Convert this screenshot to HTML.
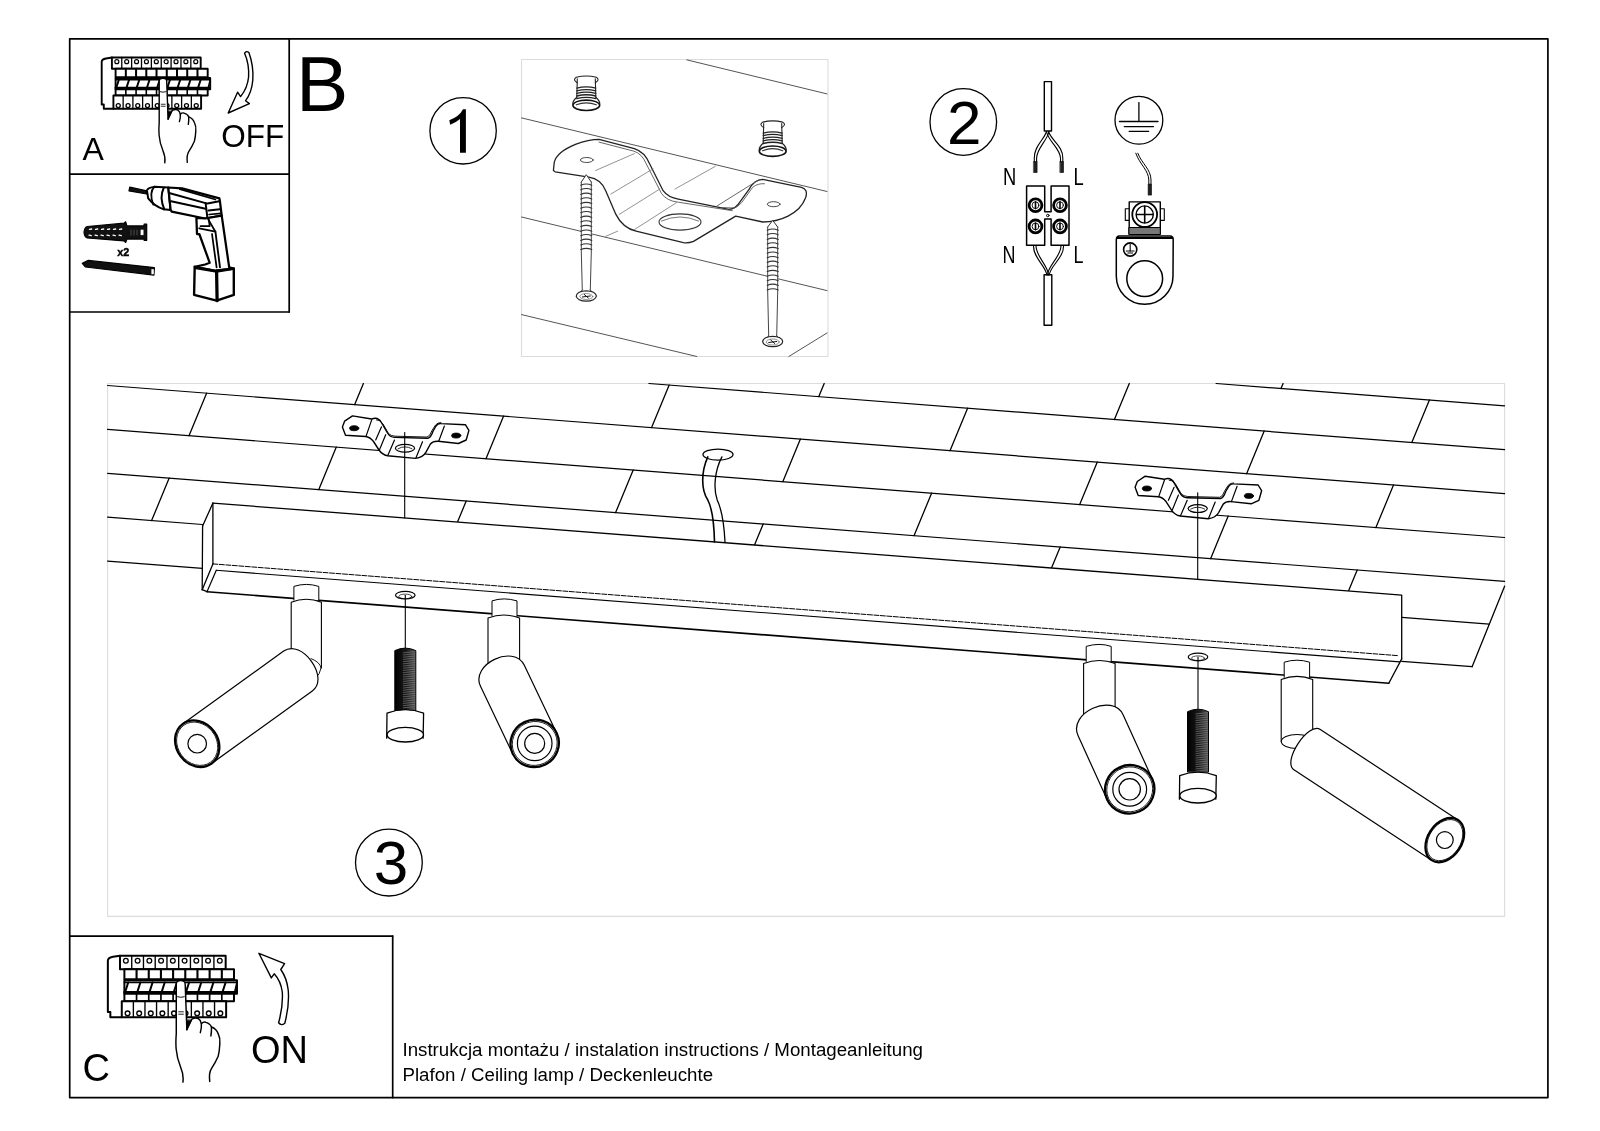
<!DOCTYPE html>
<html><head><meta charset="utf-8"><style>
html,body{margin:0;padding:0;background:#fff;width:1600px;height:1131px;overflow:hidden}
svg{display:block;will-change:transform}
text{font-family:"Liberation Sans",sans-serif;fill:#000}
</style></head><body>
<svg width="1600" height="1131" viewBox="0 0 1600 1131" stroke-linecap="round" stroke-linejoin="round">
<defs><linearGradient id="thr" x1="0" x2="1" y1="0" y2="0"><stop offset="0" stop-color="#000"/><stop offset="0.55" stop-color="#1a1a1a"/><stop offset="1" stop-color="#555"/></linearGradient></defs>
<rect x="0" y="0" width="1600" height="1131" fill="#fff"/>
<rect x="69.7" y="38.8" width="1478.2" height="1058.8" stroke="#000" stroke-width="1.7" fill="none" />
<line x1="289.2" y1="38.8" x2="289.2" y2="312.0" stroke="#000" stroke-width="1.7" />
<line x1="69.7" y1="174.1" x2="289.2" y2="174.1" stroke="#000" stroke-width="1.7" />
<line x1="69.7" y1="312.0" x2="289.2" y2="312.0" stroke="#000" stroke-width="1.7" />
<line x1="69.7" y1="936.1" x2="392.7" y2="936.1" stroke="#000" stroke-width="1.7" />
<line x1="392.7" y1="936.1" x2="392.7" y2="1097.6" stroke="#000" stroke-width="1.7" />
<rect x="521.5" y="59.5" width="306.5" height="297.0" stroke="#dcdcdc" stroke-width="1.1" fill="none" />
<rect x="107.6" y="383.5" width="1397.0" height="532.9" stroke="#dcdcdc" stroke-width="1.1" fill="none" />
<text x="295.9" y="110.6" font-size="78.5" text-anchor="start" >B</text>
<text x="82.4" y="159.6" font-size="32" text-anchor="start" >A</text>
<text x="221.2" y="146.6" font-size="31.5" text-anchor="start" >OFF</text>
<text x="82.4" y="1080.6" font-size="38" text-anchor="start" >C</text>
<text x="250.9" y="1063.0" font-size="38" text-anchor="start" >ON</text>
<text x="402.5" y="1055.8" font-size="18.7" text-anchor="start" >Instrukcja montażu / instalation instructions / Montageanleitung</text>
<text x="402.5" y="1081.3" font-size="18.7" text-anchor="start" >Plafon / Ceiling lamp / Deckenleuchte</text>
<circle cx="463.1" cy="130.8" r="33.2" stroke="#000" stroke-width="1.3" fill="none" />
<path d="M465.9,109.2 L465.9,152.7 L460,152.7 L460,118.9 Q456,122.4 450.2,124.7 L449.3,120.2 Q459.5,116.3 463,109.2 Z" stroke="#000" stroke-width="0" fill="#000" />
<circle cx="963.3" cy="122.0" r="33.3" stroke="#000" stroke-width="1.3" fill="none" />
<text x="946.9" y="143.8" font-size="62" text-anchor="start" >2</text>
<circle cx="388.9" cy="862.6" r="33.4" stroke="#000" stroke-width="1.3" fill="none" />
<text x="373.7" y="883.8" font-size="62" text-anchor="start" >3</text>
<line x1="1216.1" y1="383.5" x2="1504.6" y2="405.8" stroke="#000" stroke-width="1.2" />
<line x1="648.9" y1="383.5" x2="1504.6" y2="449.7" stroke="#000" stroke-width="1.2" />
<line x1="107.6" y1="385.5" x2="1504.6" y2="493.6" stroke="#000" stroke-width="1.2" />
<line x1="107.6" y1="429.4" x2="1504.6" y2="537.5" stroke="#000" stroke-width="1.2" />
<line x1="107.6" y1="473.3" x2="1504.6" y2="581.4" stroke="#000" stroke-width="1.2" />
<line x1="107.6" y1="517.2" x2="202.4" y2="524.5" stroke="#000" stroke-width="1.2" />
<line x1="1401.7" y1="617.4" x2="1489.3" y2="624.1" stroke="#000" stroke-width="1.2" />
<line x1="107.6" y1="561.1" x2="202.4" y2="568.4" stroke="#000" stroke-width="1.3" />
<line x1="1401.7" y1="661.3" x2="1472.1" y2="666.7" stroke="#000" stroke-width="1.3" />
<line x1="1504.6" y1="586.2" x2="1472.1" y2="666.7" stroke="#000" stroke-width="1.3" />
<line x1="1281.0" y1="388.5" x2="1283.1" y2="383.5" stroke="#000" stroke-width="1.3" />
<line x1="818.8" y1="396.6" x2="824.2" y2="383.5" stroke="#000" stroke-width="1.3" />
<line x1="1114.4" y1="419.5" x2="1129.3" y2="383.5" stroke="#000" stroke-width="1.3" />
<line x1="1411.8" y1="442.5" x2="1429.4" y2="400.0" stroke="#000" stroke-width="1.3" />
<line x1="354.7" y1="404.6" x2="363.4" y2="383.5" stroke="#000" stroke-width="1.3" />
<line x1="651.6" y1="427.6" x2="669.2" y2="385.1" stroke="#000" stroke-width="1.3" />
<line x1="950.0" y1="450.7" x2="967.6" y2="408.2" stroke="#000" stroke-width="1.3" />
<line x1="1246.6" y1="473.7" x2="1264.2" y2="431.1" stroke="#000" stroke-width="1.3" />
<line x1="189.0" y1="435.7" x2="206.6" y2="393.2" stroke="#000" stroke-width="1.3" />
<line x1="486.0" y1="458.7" x2="503.6" y2="416.1" stroke="#000" stroke-width="1.3" />
<line x1="782.8" y1="481.7" x2="800.4" y2="439.1" stroke="#000" stroke-width="1.3" />
<line x1="1079.7" y1="504.6" x2="1097.3" y2="462.1" stroke="#000" stroke-width="1.3" />
<line x1="1375.9" y1="527.6" x2="1393.5" y2="485.0" stroke="#000" stroke-width="1.3" />
<line x1="318.8" y1="489.6" x2="336.3" y2="447.1" stroke="#000" stroke-width="1.3" />
<line x1="615.6" y1="512.6" x2="633.2" y2="470.1" stroke="#000" stroke-width="1.3" />
<line x1="914.0" y1="535.7" x2="931.6" y2="493.2" stroke="#000" stroke-width="1.3" />
<line x1="1210.6" y1="558.7" x2="1228.2" y2="516.1" stroke="#000" stroke-width="1.3" />
<line x1="151.6" y1="520.6" x2="169.2" y2="478.1" stroke="#000" stroke-width="1.3" />
<line x1="457.5" y1="522.0" x2="466.2" y2="501.1" stroke="#000" stroke-width="1.3" />
<line x1="754.5" y1="545.0" x2="763.2" y2="524.0" stroke="#000" stroke-width="1.3" />
<line x1="1051.5" y1="568.0" x2="1060.2" y2="547.0" stroke="#000" stroke-width="1.3" />
<line x1="1348.5" y1="591.0" x2="1357.2" y2="570.0" stroke="#000" stroke-width="1.3" />
<path d="M212.9,503.1 L1401.7,595.1 L1401.7,658.9" stroke="#000" stroke-width="1.3" fill="#fff" />
<line x1="212.9" y1="503.1" x2="212.9" y2="563.9" stroke="#000" stroke-width="1.3" />
<line x1="212.9" y1="503.1" x2="202.6" y2="526.0" stroke="#000" stroke-width="1.3" />
<line x1="202.6" y1="526.0" x2="202.2" y2="589.7" stroke="#000" stroke-width="1.3" />
<line x1="212.9" y1="563.9" x2="202.2" y2="589.7" stroke="#000" stroke-width="1.3" />
<line x1="216.3" y1="570.3" x2="207.0" y2="591.7" stroke="#000" stroke-width="1.2" />
<line x1="212.9" y1="563.9" x2="1398.7" y2="655.7" stroke="#000" stroke-width="1.0" stroke-dasharray="5 1.5"/>
<line x1="216.3" y1="570.3" x2="1399.7" y2="661.9" stroke="#000" stroke-width="1.1" />
<line x1="202.2" y1="589.7" x2="207.0" y2="591.7" stroke="#000" stroke-width="1.3" />
<line x1="207.0" y1="591.7" x2="1388.8" y2="683.2" stroke="#000" stroke-width="1.6" />
<line x1="1401.7" y1="658.9" x2="1388.8" y2="683.2" stroke="#000" stroke-width="1.3" />
<path d="M342.4,426.9 L344.6,421.2 L352.5,415.9 L371.7,419.0 Q378.0,416.5 381.4,422.5 L387.5,433.0 Q390.0,437.2 394.5,437.4 L427.7,438.2 Q431.0,437.5 433.0,431.2 L436.0,426.0 Q438.0,423.2 441.0,423.6 L465.4,424.7 L468.9,430.4 L466.2,440.0 L458.4,443.5 L438.2,441.3 Q433.0,441.0 430.4,444.0 L426.0,452.2 Q423.0,457.5 415.5,458.4 L387.5,455.7 Q382.0,454.5 379.0,450.0 L373.5,441.5 Q370.0,437.0 365.6,436.5 L345.5,435.2 Z" stroke="#000" stroke-width="1.4" fill="#fff" />
<path d="M376.5,419.8 Q380.0,419.5 383.0,424.0 L388.5,433.5 Q391.0,436.0 395.0,436.2 L427.0,437.0 Q430.0,436.5 432.0,430.5 L435.5,425.0 Q437.5,422.5 441.0,422.6" stroke="#000" stroke-width="0.9" fill="none" />
<path d="M371.7,419.9 L366.1,436.1" stroke="#000" stroke-width="1.2" fill="none" />
<path d="M381.4,426.9 L375.7,440.0" stroke="#000" stroke-width="1.2" fill="none" />
<path d="M385.7,434.7 L379.6,449.6" stroke="#000" stroke-width="1.2" fill="none" />
<path d="M394.5,440.0 L387.9,455.3" stroke="#000" stroke-width="1.2" fill="none" />
<path d="M422.5,441.7 L415.9,457.9" stroke="#000" stroke-width="1.2" fill="none" />
<path d="M444.4,426.0 L438.7,441.3" stroke="#000" stroke-width="1.2" fill="none" />
<ellipse cx="354.2" cy="428.2" rx="4.6" ry="2.5" stroke="#000" stroke-width="0.8" fill="#000" transform="rotate(0 354.2 428.2)" />
<ellipse cx="456.2" cy="435.6" rx="4.6" ry="2.5" stroke="#000" stroke-width="0.8" fill="#000" transform="rotate(0 456.2 435.6)" />
<ellipse cx="405.0" cy="448.3" rx="9.6" ry="3.9" stroke="#000" stroke-width="1.2" fill="none" transform="rotate(0 405.0 448.3)" />
<path d="M398.0,448.8 Q405.0,444.8 412.0,448.8" stroke="#000" stroke-width="0.8" fill="none" />
<line x1="404.7" y1="432.5" x2="404.7" y2="517.9" stroke="#000" stroke-width="1.1" />
<path d="M1135.1,487.2 L1137.3,481.5 L1145.2,476.2 L1164.4,479.3 Q1170.7,476.8 1174.1,482.8 L1180.2,493.3 Q1182.7,497.5 1187.2,497.7 L1220.4,498.5 Q1223.7,497.8 1225.7,491.5 L1228.7,486.3 Q1230.7,483.5 1233.7,483.9 L1258.1,485.0 L1261.6,490.7 L1258.9,500.3 L1251.1,503.8 L1230.9,501.6 Q1225.7,501.3 1223.1,504.3 L1218.7,512.5 Q1215.7,517.8 1208.2,518.7 L1180.2,516.0 Q1174.7,514.8 1171.7,510.3 L1166.2,501.8 Q1162.7,497.3 1158.3,496.8 L1138.2,495.5 Z" stroke="#000" stroke-width="1.4" fill="#fff" />
<path d="M1169.2,480.1 Q1172.7,479.8 1175.7,484.3 L1181.2,493.8 Q1183.7,496.3 1187.7,496.5 L1219.7,497.3 Q1222.7,496.8 1224.7,490.8 L1228.2,485.3 Q1230.2,482.8 1233.7,482.9" stroke="#000" stroke-width="0.9" fill="none" />
<path d="M1164.4,480.2 L1158.8,496.4" stroke="#000" stroke-width="1.2" fill="none" />
<path d="M1174.1,487.2 L1168.4,500.3" stroke="#000" stroke-width="1.2" fill="none" />
<path d="M1178.4,495.0 L1172.3,509.9" stroke="#000" stroke-width="1.2" fill="none" />
<path d="M1187.2,500.3 L1180.6,515.6" stroke="#000" stroke-width="1.2" fill="none" />
<path d="M1215.2,502.0 L1208.6,518.2" stroke="#000" stroke-width="1.2" fill="none" />
<path d="M1237.1,486.3 L1231.4,501.6" stroke="#000" stroke-width="1.2" fill="none" />
<ellipse cx="1146.9" cy="488.5" rx="4.6" ry="2.5" stroke="#000" stroke-width="0.8" fill="#000" transform="rotate(0 1146.9 488.5)" />
<ellipse cx="1248.9" cy="495.9" rx="4.6" ry="2.5" stroke="#000" stroke-width="0.8" fill="#000" transform="rotate(0 1248.9 495.9)" />
<ellipse cx="1197.7" cy="508.6" rx="9.6" ry="3.9" stroke="#000" stroke-width="1.2" fill="none" transform="rotate(0 1197.7 508.6)" />
<path d="M1190.7,509.1 Q1197.7,505.1 1204.7,509.1" stroke="#000" stroke-width="0.8" fill="none" />
<line x1="1197.7" y1="492.8" x2="1197.7" y2="579.3" stroke="#000" stroke-width="1.1" />
<ellipse cx="718.0" cy="454.6" rx="15.0" ry="5.5" stroke="#000" stroke-width="1.3" fill="#fff" transform="rotate(0 718.0 454.6)" />
<path d="M707.8,456.9 C701,472 701,490 707.8,500 C712,508 714,520 714.5,542" stroke="#000" stroke-width="1.6" fill="none" />
<path d="M721.9,456.9 C715,470 713,488 717.2,500 C721,508 724,522 725,542" stroke="#000" stroke-width="1.3" fill="none" />
<path d="M293.9,600.2 L293.9,586.4 Q306.3,582.4 318.8,586.4 L318.8,600.2" stroke="#000" stroke-width="1.0" fill="#fff" />
<path d="M291.2,668.0 L291.2,602.2 Q306.3,596.2 321.4,602.2 L321.4,668.0" stroke="#000" stroke-width="1.1" fill="#fff" />
<path d="M311,658.6 Q320,662 321,668 Q320,674 316,678" stroke="#000" stroke-width="0.9" fill="none" />
<path d="M211.5,763.6 L312.3,690.9 C330.2,678.0 301.6,638.2 283.7,651.1 L182.9,723.8 Z" stroke="#000" stroke-width="1.2" fill="#fff" />
<ellipse cx="197.2" cy="743.7" rx="20.8" ry="24.5" stroke="#000" stroke-width="2.3" fill="#fff" transform="rotate(-35.80027937627632 197.2 743.7)" />
<ellipse cx="197.2" cy="743.7" rx="19.4" ry="22.8" stroke="#000" stroke-width="0.8" fill="none" transform="rotate(-35.80027937627632 197.2 743.7)" />
<circle cx="197.2" cy="743.7" r="9.3" stroke="#000" stroke-width="1.2" fill="none" />
<path d="M492.0,616.0 L492.0,600.9 Q503.8,596.9 517.0,600.9 L517.0,616.0" stroke="#000" stroke-width="1.0" fill="#fff" />
<path d="M488.0,675.0 L488.0,618.0 Q503.8,612.0 519.6,618.0 L519.6,675.0" stroke="#000" stroke-width="1.1" fill="#fff" />
<path d="M556.6,732.9 L524.3,665.3 C513.8,643.4 470.0,664.4 480.5,686.3 L512.8,753.9 Z" stroke="#000" stroke-width="1.2" fill="#fff" />
<ellipse cx="534.7" cy="743.4" rx="23.6" ry="24.3" stroke="#000" stroke-width="2.3" fill="#fff" transform="rotate(-115.53896781887705 534.7 743.4)" />
<ellipse cx="534.7" cy="743.4" rx="21.9" ry="22.6" stroke="#000" stroke-width="0.8" fill="none" transform="rotate(-115.53896781887705 534.7 743.4)" />
<circle cx="534.7" cy="743.4" r="10.0" stroke="#000" stroke-width="1.2" fill="none" />
<circle cx="534.7" cy="743.4" r="17.3" stroke="#000" stroke-width="1.2" fill="none" />
<path d="M1086.2,661.5 L1086.2,646.4 Q1099.3,642.4 1111.2,646.4 L1111.2,661.5" stroke="#000" stroke-width="1.0" fill="#fff" />
<path d="M1083.6,714.0 L1083.6,663.5 Q1099.3,657.5 1115.1,663.5 L1115.1,714.0" stroke="#000" stroke-width="1.1" fill="#fff" />
<path d="M1152.3,779.0 L1123.2,714.9 C1112.9,692.4 1067.8,712.9 1078.0,735.5 L1107.1,799.6 Z" stroke="#000" stroke-width="1.2" fill="#fff" />
<ellipse cx="1129.7" cy="789.3" rx="24.1" ry="24.8" stroke="#000" stroke-width="2.3" fill="#fff" transform="rotate(-114.41701108171476 1129.7 789.3)" />
<ellipse cx="1129.7" cy="789.3" rx="22.4" ry="23.1" stroke="#000" stroke-width="0.8" fill="none" transform="rotate(-114.41701108171476 1129.7 789.3)" />
<circle cx="1129.7" cy="789.3" r="10.7" stroke="#000" stroke-width="1.2" fill="none" />
<circle cx="1129.7" cy="789.3" r="16.9" stroke="#000" stroke-width="1.2" fill="none" />
<path d="M1284.2,677.4 L1284.2,662.2 Q1297.0,658.2 1309.6,662.2 L1309.6,677.4" stroke="#000" stroke-width="1.0" fill="#fff" />
<path d="M1281.2,741.5 L1281.2,679.4 Q1297.0,673.4 1312.7,679.4 L1312.7,741.5" stroke="#000" stroke-width="1.1" fill="#fff" />
<ellipse cx="1297.0" cy="741.5" rx="15.7" ry="7.0" stroke="#000" stroke-width="1.1" fill="#fff" transform="rotate(0 1297.0 741.5)" />
<path d="M1458.0,820.0 L1320.3,729.5 C1308.2,721.6 1281.9,761.7 1293.9,769.7 L1431.6,860.2 Z" stroke="#000" stroke-width="1.2" fill="#fff" />
<ellipse cx="1444.8" cy="840.1" rx="17.0" ry="24.0" stroke="#000" stroke-width="2.3" fill="#fff" transform="rotate(-146.68604816228466 1444.8 840.1)" />
<ellipse cx="1444.8" cy="840.1" rx="15.8" ry="22.3" stroke="#000" stroke-width="0.8" fill="none" transform="rotate(-146.68604816228466 1444.8 840.1)" />
<circle cx="1444.8" cy="840.1" r="8.4" stroke="#000" stroke-width="1.2" fill="none" />
<ellipse cx="405.3" cy="595.2" rx="9.8" ry="3.8" stroke="#000" stroke-width="1.2" fill="#fff" transform="rotate(0 405.3 595.2)" />
<ellipse cx="405.3" cy="596.4" rx="6.5" ry="2.3" stroke="#000" stroke-width="0.7" fill="none" transform="rotate(0 405.3 596.4)" />
<line x1="405.3" y1="595.2" x2="405.3" y2="647.6" stroke="#000" stroke-width="1.1" />
<path d="M394.8,710.7 L394.8,650.6 Q405.3,645.6 415.8,650.6 L415.8,710.7 Z" stroke="#000" stroke-width="1.0" fill="url(#thr)" />
<path d="M403.3,652.8 L414.8,651.6" stroke="#999" stroke-width="0.5" fill="none" />
<path d="M403.3,655.0 L414.8,653.8" stroke="#999" stroke-width="0.5" fill="none" />
<path d="M403.3,657.2 L414.8,656.0" stroke="#999" stroke-width="0.5" fill="none" />
<path d="M403.3,659.4 L414.8,658.2" stroke="#999" stroke-width="0.5" fill="none" />
<path d="M403.3,661.6 L414.8,660.4" stroke="#999" stroke-width="0.5" fill="none" />
<path d="M403.3,663.8 L414.8,662.6" stroke="#999" stroke-width="0.5" fill="none" />
<path d="M403.3,666.0 L414.8,664.8" stroke="#999" stroke-width="0.5" fill="none" />
<path d="M403.3,668.2 L414.8,667.0" stroke="#999" stroke-width="0.5" fill="none" />
<path d="M403.3,670.4 L414.8,669.2" stroke="#999" stroke-width="0.5" fill="none" />
<path d="M403.3,672.6 L414.8,671.4" stroke="#999" stroke-width="0.5" fill="none" />
<path d="M403.3,674.8 L414.8,673.6" stroke="#999" stroke-width="0.5" fill="none" />
<path d="M403.3,677.0 L414.8,675.8" stroke="#999" stroke-width="0.5" fill="none" />
<path d="M403.3,679.2 L414.8,678.0" stroke="#999" stroke-width="0.5" fill="none" />
<path d="M403.3,681.4 L414.8,680.2" stroke="#999" stroke-width="0.5" fill="none" />
<path d="M403.3,683.6 L414.8,682.4" stroke="#999" stroke-width="0.5" fill="none" />
<path d="M403.3,685.8 L414.8,684.6" stroke="#999" stroke-width="0.5" fill="none" />
<path d="M403.3,688.0 L414.8,686.8" stroke="#999" stroke-width="0.5" fill="none" />
<path d="M403.3,690.2 L414.8,689.0" stroke="#999" stroke-width="0.5" fill="none" />
<path d="M403.3,692.4 L414.8,691.2" stroke="#999" stroke-width="0.5" fill="none" />
<path d="M403.3,694.6 L414.8,693.4" stroke="#999" stroke-width="0.5" fill="none" />
<path d="M403.3,696.8 L414.8,695.6" stroke="#999" stroke-width="0.5" fill="none" />
<path d="M403.3,699.0 L414.8,697.8" stroke="#999" stroke-width="0.5" fill="none" />
<path d="M403.3,701.2 L414.8,700.0" stroke="#999" stroke-width="0.5" fill="none" />
<path d="M403.3,703.4 L414.8,702.2" stroke="#999" stroke-width="0.5" fill="none" />
<path d="M403.3,705.6 L414.8,704.4" stroke="#999" stroke-width="0.5" fill="none" />
<path d="M403.3,707.8 L414.8,706.6" stroke="#999" stroke-width="0.5" fill="none" />
<path d="M403.3,710.0 L414.8,708.8" stroke="#999" stroke-width="0.5" fill="none" />
<path d="M386.7,738.2 L387.0,713.2 Q405.3,706.2 423.6,713.2 L423.1,738.2" stroke="#000" stroke-width="1.3" fill="#fff" />
<ellipse cx="405.3" cy="734.7" rx="18.2" ry="7.3" stroke="#000" stroke-width="1.4" fill="#fff" transform="rotate(0 405.3 734.7)" />
<ellipse cx="1198.0" cy="657.0" rx="9.8" ry="3.8" stroke="#000" stroke-width="1.2" fill="#fff" transform="rotate(0 1198.0 657.0)" />
<ellipse cx="1198.0" cy="658.2" rx="6.5" ry="2.3" stroke="#000" stroke-width="0.7" fill="none" transform="rotate(0 1198.0 658.2)" />
<line x1="1198.0" y1="657.0" x2="1198.0" y2="708.7" stroke="#000" stroke-width="1.1" />
<path d="M1187.5,771.7 L1187.5,711.7 Q1198.0,706.7 1208.5,711.7 L1208.5,771.7 Z" stroke="#000" stroke-width="1.0" fill="url(#thr)" />
<path d="M1196.0,713.9 L1207.5,712.7" stroke="#999" stroke-width="0.5" fill="none" />
<path d="M1196.0,716.1 L1207.5,714.9" stroke="#999" stroke-width="0.5" fill="none" />
<path d="M1196.0,718.3 L1207.5,717.1" stroke="#999" stroke-width="0.5" fill="none" />
<path d="M1196.0,720.5 L1207.5,719.3" stroke="#999" stroke-width="0.5" fill="none" />
<path d="M1196.0,722.7 L1207.5,721.5" stroke="#999" stroke-width="0.5" fill="none" />
<path d="M1196.0,724.9 L1207.5,723.7" stroke="#999" stroke-width="0.5" fill="none" />
<path d="M1196.0,727.1 L1207.5,725.9" stroke="#999" stroke-width="0.5" fill="none" />
<path d="M1196.0,729.3 L1207.5,728.1" stroke="#999" stroke-width="0.5" fill="none" />
<path d="M1196.0,731.5 L1207.5,730.3" stroke="#999" stroke-width="0.5" fill="none" />
<path d="M1196.0,733.7 L1207.5,732.5" stroke="#999" stroke-width="0.5" fill="none" />
<path d="M1196.0,735.9 L1207.5,734.7" stroke="#999" stroke-width="0.5" fill="none" />
<path d="M1196.0,738.1 L1207.5,736.9" stroke="#999" stroke-width="0.5" fill="none" />
<path d="M1196.0,740.3 L1207.5,739.1" stroke="#999" stroke-width="0.5" fill="none" />
<path d="M1196.0,742.5 L1207.5,741.3" stroke="#999" stroke-width="0.5" fill="none" />
<path d="M1196.0,744.7 L1207.5,743.5" stroke="#999" stroke-width="0.5" fill="none" />
<path d="M1196.0,746.9 L1207.5,745.7" stroke="#999" stroke-width="0.5" fill="none" />
<path d="M1196.0,749.1 L1207.5,747.9" stroke="#999" stroke-width="0.5" fill="none" />
<path d="M1196.0,751.3 L1207.5,750.1" stroke="#999" stroke-width="0.5" fill="none" />
<path d="M1196.0,753.5 L1207.5,752.3" stroke="#999" stroke-width="0.5" fill="none" />
<path d="M1196.0,755.7 L1207.5,754.5" stroke="#999" stroke-width="0.5" fill="none" />
<path d="M1196.0,757.9 L1207.5,756.7" stroke="#999" stroke-width="0.5" fill="none" />
<path d="M1196.0,760.1 L1207.5,758.9" stroke="#999" stroke-width="0.5" fill="none" />
<path d="M1196.0,762.3 L1207.5,761.1" stroke="#999" stroke-width="0.5" fill="none" />
<path d="M1196.0,764.5 L1207.5,763.3" stroke="#999" stroke-width="0.5" fill="none" />
<path d="M1196.0,766.7 L1207.5,765.5" stroke="#999" stroke-width="0.5" fill="none" />
<path d="M1196.0,768.9 L1207.5,767.7" stroke="#999" stroke-width="0.5" fill="none" />
<path d="M1196.0,771.1 L1207.5,769.9" stroke="#999" stroke-width="0.5" fill="none" />
<path d="M1179.4,799.2 L1179.7,775.7 Q1198.0,768.7 1216.3,775.7 L1215.8,799.2" stroke="#000" stroke-width="1.3" fill="#fff" />
<ellipse cx="1198.0" cy="795.7" rx="18.2" ry="7.3" stroke="#000" stroke-width="1.4" fill="#fff" transform="rotate(0 1198.0 795.7)" />
<line x1="686.9" y1="59.9" x2="827.0" y2="93.9" stroke="#555" stroke-width="1.0" />
<line x1="521.5" y1="117.9" x2="827.0" y2="191.5" stroke="#555" stroke-width="1.0" />
<line x1="521.5" y1="217.0" x2="827.0" y2="290.6" stroke="#555" stroke-width="1.0" />
<line x1="521.5" y1="314.6" x2="696.8" y2="356.5" stroke="#555" stroke-width="1.0" />
<line x1="788.8" y1="356.5" x2="827.0" y2="333.0" stroke="#555" stroke-width="1.0" />
<path d="M 553.4,170.5 L 554.3,162.1 Q 556.8,151.9 575.4,144.3 Q 588.9,139.3 599.0,139.3 L 634.4,148.6 Q 644.6,151.9 649.6,163.7 L 663.1,190.7 Q 668.2,197.5 678.3,199.2 L 728.9,209.3 Q 735.7,209.3 740.7,200.9 L 749.2,189.1 Q 754.2,179.8 762.7,179.3 L 801.5,187.4 Q 808.2,189.1 805.7,197.5 Q 801.5,209.3 788.0,216.1 Q 776.2,222.0 762.7,222.0 L 735.7,216.1 L 693.5,241.4 Q 688.4,243.4 683.4,242.7 L 636.1,231.2 Q 622.6,227.9 615.9,214.4 L 605.7,190.7 Q 600.7,178.9 588.9,177.2 L 555.1,171.8 Z" stroke="#222" stroke-width="1.3" fill="#fff" />
<path d="M 599.0,142.1 L 633.6,151.1 Q 642.0,153.6 646.2,163.7 L 661.4,193.3 Q 666.5,200.9 678.3,202.2 L 732.3,210.7" stroke="#555" stroke-width="0.9" fill="none" />
<path d="M 717.1,205.9 L 757.6,180.6" stroke="#555" stroke-width="0.9" fill="none" />
<path d="M 722.2,207.6 L 734.0,208.0 Q 739.1,206.8 744.1,199.2 L 752.6,187.4 Q 757.6,183.2 764.4,183.7" stroke="#555" stroke-width="0.9" fill="none" />
<path d="M 595.6,170.5 L 634.4,153.6" stroke="#777" stroke-width="0.8" fill="none" />
<path d="M 610.8,194.1 L 653.0,168.8" stroke="#777" stroke-width="0.8" fill="none" />
<path d="M 619.2,214.4 L 659.7,189.1" stroke="#777" stroke-width="0.8" fill="none" />
<path d="M 634.4,229.6 L 676.6,202.6" stroke="#777" stroke-width="0.8" fill="none" />
<path d="M 674.9,189.1 L 715.4,166.3" stroke="#777" stroke-width="0.8" fill="none" />
<path d="M 605.7,236.3 L 617.6,231.2" stroke="#777" stroke-width="0.8" fill="none" />
<ellipse cx="680.0" cy="222.0" rx="21.0" ry="8.1" stroke="#333" stroke-width="1.1" fill="none" transform="rotate(0 680.0 222.0)" />
<path d="M 661.4,221.1 Q 680.0,212.7 698.6,221.1" stroke="#555" stroke-width="0.8" fill="none" />
<ellipse cx="586.8" cy="160.0" rx="6.4" ry="2.5" stroke="#333" stroke-width="0.9" fill="none" transform="rotate(0 586.8 160.0)" />
<ellipse cx="773.7" cy="204.2" rx="6.4" ry="2.5" stroke="#333" stroke-width="0.9" fill="none" transform="rotate(0 773.7 204.2)" />
<path d="M581.3,182.0 L586.3,174.7 L591.3,182.0 L591.3,252.0 L590.3,290.0 L582.3,290.0 L581.3,252.0 Z" stroke="none" stroke-width="0" fill="#fff" />
<path d="M581.3,182.0 L586.3,174.7 L591.3,182.0" stroke="#333" stroke-width="1.0" fill="#fff" />
<path d="M581.3,182.0 L581.3,252.0 L582.3,290.0 M591.3,182.0 L591.3,252.0 L590.3,290.0" stroke="#444" stroke-width="1.0" fill="none" />
<path d="M580.8,185.2 Q586.3,182.7 591.8,185.2" stroke="#333" stroke-width="1.1" fill="none" />
<path d="M580.8,189.8 Q586.3,187.3 591.8,189.8" stroke="#333" stroke-width="1.1" fill="none" />
<path d="M580.8,194.4 Q586.3,191.9 591.8,194.4" stroke="#333" stroke-width="1.1" fill="none" />
<path d="M580.8,199.0 Q586.3,196.5 591.8,199.0" stroke="#333" stroke-width="1.1" fill="none" />
<path d="M580.8,203.6 Q586.3,201.1 591.8,203.6" stroke="#333" stroke-width="1.1" fill="none" />
<path d="M580.8,208.2 Q586.3,205.7 591.8,208.2" stroke="#333" stroke-width="1.1" fill="none" />
<path d="M580.8,212.8 Q586.3,210.3 591.8,212.8" stroke="#333" stroke-width="1.1" fill="none" />
<path d="M580.8,217.4 Q586.3,214.9 591.8,217.4" stroke="#333" stroke-width="1.1" fill="none" />
<path d="M580.8,222.0 Q586.3,219.5 591.8,222.0" stroke="#333" stroke-width="1.1" fill="none" />
<path d="M580.8,226.6 Q586.3,224.1 591.8,226.6" stroke="#333" stroke-width="1.1" fill="none" />
<path d="M580.8,231.2 Q586.3,228.7 591.8,231.2" stroke="#333" stroke-width="1.1" fill="none" />
<path d="M580.8,235.8 Q586.3,233.3 591.8,235.8" stroke="#333" stroke-width="1.1" fill="none" />
<path d="M580.8,240.4 Q586.3,237.9 591.8,240.4" stroke="#333" stroke-width="1.1" fill="none" />
<path d="M580.8,245.0 Q586.3,242.5 591.8,245.0" stroke="#333" stroke-width="1.1" fill="none" />
<path d="M580.8,249.6 Q586.3,247.1 591.8,249.6" stroke="#333" stroke-width="1.1" fill="none" />
<path d="M582.3,290.0 L576.3,296.0 M590.3,290.0 L596.3,296.0" stroke="#333" stroke-width="1.0" fill="none" />
<ellipse cx="586.3" cy="296.0" rx="10.0" ry="5.2" stroke="#222" stroke-width="1.2" fill="#fff" transform="rotate(0 586.3 296.0)" />
<ellipse cx="586.3" cy="296.5" rx="6.5" ry="3.0" stroke="#666" stroke-width="0.7" fill="none" transform="rotate(0 586.3 296.5)" />
<path d="M582.3,297.0 L590.3,296.0 M584.3,294.5 L588.3,298.0" stroke="#111" stroke-width="1.0" fill="none" />
<path d="M767.7,227.0 L772.7,220.4 L777.7,227.0 L777.7,292.0 L776.7,336.0 L768.7,336.0 L767.7,292.0 Z" stroke="none" stroke-width="0" fill="#fff" />
<path d="M767.7,227.0 L772.7,220.4 L777.7,227.0" stroke="#333" stroke-width="1.0" fill="#fff" />
<path d="M767.7,227.0 L767.7,292.0 L768.7,336.0 M777.7,227.0 L777.7,292.0 L776.7,336.0" stroke="#444" stroke-width="1.0" fill="none" />
<path d="M767.2,230.2 Q772.7,227.7 778.2,230.2" stroke="#333" stroke-width="1.1" fill="none" />
<path d="M767.2,234.8 Q772.7,232.3 778.2,234.8" stroke="#333" stroke-width="1.1" fill="none" />
<path d="M767.2,239.4 Q772.7,236.9 778.2,239.4" stroke="#333" stroke-width="1.1" fill="none" />
<path d="M767.2,244.0 Q772.7,241.5 778.2,244.0" stroke="#333" stroke-width="1.1" fill="none" />
<path d="M767.2,248.6 Q772.7,246.1 778.2,248.6" stroke="#333" stroke-width="1.1" fill="none" />
<path d="M767.2,253.2 Q772.7,250.7 778.2,253.2" stroke="#333" stroke-width="1.1" fill="none" />
<path d="M767.2,257.8 Q772.7,255.3 778.2,257.8" stroke="#333" stroke-width="1.1" fill="none" />
<path d="M767.2,262.4 Q772.7,259.9 778.2,262.4" stroke="#333" stroke-width="1.1" fill="none" />
<path d="M767.2,267.0 Q772.7,264.5 778.2,267.0" stroke="#333" stroke-width="1.1" fill="none" />
<path d="M767.2,271.6 Q772.7,269.1 778.2,271.6" stroke="#333" stroke-width="1.1" fill="none" />
<path d="M767.2,276.2 Q772.7,273.7 778.2,276.2" stroke="#333" stroke-width="1.1" fill="none" />
<path d="M767.2,280.8 Q772.7,278.3 778.2,280.8" stroke="#333" stroke-width="1.1" fill="none" />
<path d="M767.2,285.4 Q772.7,282.9 778.2,285.4" stroke="#333" stroke-width="1.1" fill="none" />
<path d="M767.2,290.0 Q772.7,287.5 778.2,290.0" stroke="#333" stroke-width="1.1" fill="none" />
<path d="M768.7,336.0 L762.7,341.5 M776.7,336.0 L782.7,341.5" stroke="#333" stroke-width="1.0" fill="none" />
<ellipse cx="772.7" cy="341.5" rx="10.0" ry="5.2" stroke="#222" stroke-width="1.2" fill="#fff" transform="rotate(0 772.7 341.5)" />
<ellipse cx="772.7" cy="342.0" rx="6.5" ry="3.0" stroke="#666" stroke-width="0.7" fill="none" transform="rotate(0 772.7 342.0)" />
<path d="M768.7,342.5 L776.7,341.5 M770.7,340.0 L774.7,343.5" stroke="#111" stroke-width="1.0" fill="none" />
<path d="M577.3,78.7 L576.8,97.3 M595.3,78.7 L595.8,97.3" stroke="#222" stroke-width="1.1" fill="none" />
<path d="M577.3,82.7 Q572.3,79.7 576.3,77.2 Q586.3,74.7 596.3,77.2 Q600.3,79.7 595.3,82.7" stroke="#222" stroke-width="1.1" fill="none" />
<path d="M576.8,88.2 Q586.3,85.7 595.8,88.2" stroke="#222" stroke-width="1.3" fill="none" />
<path d="M576.8,90.8 Q586.3,88.3 595.8,90.8" stroke="#222" stroke-width="1.3" fill="none" />
<path d="M576.8,93.4 Q586.3,90.9 595.8,93.4" stroke="#222" stroke-width="1.3" fill="none" />
<path d="M576.8,96.0 Q586.3,93.5 595.8,96.0" stroke="#222" stroke-width="1.3" fill="none" />
<path d="M576.8,98.6 Q586.3,96.1 595.8,98.6" stroke="#222" stroke-width="1.3" fill="none" />
<path d="M576.8,97.3 Q572.3,101.3 572.9,104.3 M595.8,97.3 Q600.3,101.3 599.7,104.3" stroke="#222" stroke-width="1.2" fill="none" />
<ellipse cx="586.3" cy="105.3" rx="13.4" ry="5.2" stroke="#111" stroke-width="1.6" fill="#fff" transform="rotate(0 586.3 105.3)" />
<path d="M576.3,104.8 Q586.3,100.8 596.3,104.8" stroke="#333" stroke-width="1.2" fill="none" />
<path d="M763.7,123.6 L763.2,143.2 M781.7,123.6 L782.2,143.2" stroke="#222" stroke-width="1.1" fill="none" />
<path d="M763.7,127.6 Q758.7,124.6 762.7,122.1 Q772.7,119.6 782.7,122.1 Q786.7,124.6 781.7,127.6" stroke="#222" stroke-width="1.1" fill="none" />
<path d="M763.2,133.1 Q772.7,130.6 782.2,133.1" stroke="#222" stroke-width="1.3" fill="none" />
<path d="M763.2,135.7 Q772.7,133.2 782.2,135.7" stroke="#222" stroke-width="1.3" fill="none" />
<path d="M763.2,138.3 Q772.7,135.8 782.2,138.3" stroke="#222" stroke-width="1.3" fill="none" />
<path d="M763.2,140.9 Q772.7,138.4 782.2,140.9" stroke="#222" stroke-width="1.3" fill="none" />
<path d="M763.2,143.5 Q772.7,141.0 782.2,143.5" stroke="#222" stroke-width="1.3" fill="none" />
<path d="M763.2,143.2 Q758.7,147.2 759.3,150.2 M782.2,143.2 Q786.7,147.2 786.1,150.2" stroke="#222" stroke-width="1.2" fill="none" />
<ellipse cx="772.7" cy="151.2" rx="13.4" ry="5.2" stroke="#111" stroke-width="1.6" fill="#fff" transform="rotate(0 772.7 151.2)" />
<path d="M762.7,150.7 Q772.7,146.7 782.7,150.7" stroke="#333" stroke-width="1.2" fill="none" />
<rect x="1044.3" y="81.6" width="7.2" height="49.4" stroke="#000" stroke-width="1.4" fill="none" />
<path d="M1046.5,131.5 C1044,140 1034,146 1034.3,158 L1034.3,162" stroke="#000" stroke-width="1.1" fill="none" />
<path d="M1049,131.5 C1047,141 1037,148 1036.6,158 L1036.6,162" stroke="#000" stroke-width="1.1" fill="none" />
<path d="M1048.5,131.5 C1051,140 1063,146 1062.8,158 L1062.8,162" stroke="#000" stroke-width="1.1" fill="none" />
<path d="M1046.5,131.5 C1048,141 1060,148 1060.5,158 L1060.5,162" stroke="#000" stroke-width="1.1" fill="none" />
<rect x="1033.8" y="161.5" width="3.3" height="11.0" stroke="#000" stroke-width="0.6" fill="#222" />
<rect x="1060.2" y="161.5" width="3.3" height="11.0" stroke="#000" stroke-width="0.6" fill="#222" />
<text x="0" y="0" font-size="23.5" transform="translate(1003.0,184.6) scale(0.78,1)">N</text>
<text x="0" y="0" font-size="23.5" transform="translate(1073.6,184.8) scale(0.78,1)">L</text>
<text x="0" y="0" font-size="23" transform="translate(1002.6,263.3) scale(0.78,1)">N</text>
<text x="0" y="0" font-size="23" transform="translate(1073.4,263.3) scale(0.78,1)">L</text>
<path d="M1026.6,186 L1044.7,186 L1044.7,211.8 L1051.1,211.8 L1051.1,186 L1069,186 L1069,245.3 L1051.1,245.3 L1051.1,219.1 L1044.7,219.1 L1044.7,245.3 L1026.6,245.3 Z" stroke="#000" stroke-width="1.5" fill="#fff" />
<circle cx="1047.8" cy="215.5" r="1.3" stroke="#000" stroke-width="0.9" fill="none" />
<circle cx="1035.5" cy="205.2" r="6.4" stroke="#000" stroke-width="2.8" fill="none" />
<circle cx="1035.5" cy="205.2" r="3.4" stroke="#000" stroke-width="0.9" fill="none" />
<line x1="1035.5" y1="201.8" x2="1035.5" y2="208.6" stroke="#000" stroke-width="1.6" />
<circle cx="1060.0" cy="205.2" r="6.4" stroke="#000" stroke-width="2.8" fill="none" />
<circle cx="1060.0" cy="205.2" r="3.4" stroke="#000" stroke-width="0.9" fill="none" />
<line x1="1060.0" y1="201.8" x2="1060.0" y2="208.6" stroke="#000" stroke-width="1.6" />
<circle cx="1035.5" cy="226.4" r="6.4" stroke="#000" stroke-width="2.8" fill="none" />
<circle cx="1035.5" cy="226.4" r="3.4" stroke="#000" stroke-width="0.9" fill="none" />
<line x1="1035.5" y1="223.0" x2="1035.5" y2="229.8" stroke="#000" stroke-width="1.6" />
<circle cx="1060.0" cy="226.4" r="6.4" stroke="#000" stroke-width="2.8" fill="none" />
<circle cx="1060.0" cy="226.4" r="3.4" stroke="#000" stroke-width="0.9" fill="none" />
<line x1="1060.0" y1="223.0" x2="1060.0" y2="229.8" stroke="#000" stroke-width="1.6" />
<path d="M1033.5,245.5 C1033,258 1046,266 1046.8,275" stroke="#000" stroke-width="1.1" fill="none" />
<path d="M1036,245.5 C1036,257 1048,265 1048.5,275" stroke="#000" stroke-width="1.1" fill="none" />
<path d="M1063.5,245.5 C1064,258 1050,266 1049.3,275" stroke="#000" stroke-width="1.1" fill="none" />
<path d="M1061,245.5 C1061,257 1048,265 1047.5,275" stroke="#000" stroke-width="1.1" fill="none" />
<rect x="1044.1" y="274.8" width="7.7" height="50.4" stroke="#000" stroke-width="1.4" fill="none" />
<circle cx="1138.9" cy="120.2" r="23.9" stroke="#000" stroke-width="1.3" fill="none" />
<line x1="1138.9" y1="102.6" x2="1138.9" y2="121.3" stroke="#000" stroke-width="1.3" />
<line x1="1119.5" y1="121.5" x2="1158.0" y2="121.5" stroke="#000" stroke-width="1.3" />
<line x1="1124.3" y1="126.6" x2="1153.5" y2="126.6" stroke="#000" stroke-width="1.3" />
<line x1="1129.2" y1="131.4" x2="1148.6" y2="131.4" stroke="#000" stroke-width="1.3" />
<path d="M1135.8,153.2 C1140,165 1148.5,170 1148.8,180 L1148.8,195" stroke="#000" stroke-width="1.0" fill="none" />
<path d="M1137.8,153.2 C1142,164 1150.8,169 1151,180 L1151,195" stroke="#000" stroke-width="1.0" fill="none" />
<rect x="1148.5" y="184.0" width="2.8" height="11.0" stroke="#000" stroke-width="0.5" fill="#222" />
<rect x="1125.3" y="208.7" width="39.0" height="11.7" stroke="#000" stroke-width="1.1" fill="#fff" />
<rect x="1129.2" y="201.9" width="31.1" height="32.1" stroke="#000" stroke-width="1.4" fill="#fff" />
<rect x="1129.2" y="227.5" width="31.1" height="7.0" stroke="#000" stroke-width="1.0" fill="#777" />
<circle cx="1144.7" cy="214.5" r="12.4" stroke="#000" stroke-width="1.8" fill="#fff" />
<circle cx="1144.7" cy="214.5" r="8.6" stroke="#000" stroke-width="1.4" fill="none" />
<line x1="1144.7" y1="206.5" x2="1144.7" y2="222.5" stroke="#000" stroke-width="1.6" />
<line x1="1136.7" y1="214.5" x2="1152.7" y2="214.5" stroke="#000" stroke-width="1.6" />
<path d="M1119.5,236 L1170,236 Q1173.2,236 1173.2,240 L1173,276 A28.3,28.3 0 0 1 1116.3,276 L1116.3,240 Q1116.3,236 1119.5,236 Z" stroke="#000" stroke-width="1.5" fill="#fff" />
<line x1="1117.0" y1="238.0" x2="1172.5" y2="238.0" stroke="#000" stroke-width="2.2" />
<circle cx="1144.7" cy="278.7" r="17.9" stroke="#000" stroke-width="1.5" fill="none" />
<circle cx="1130.2" cy="249.5" r="6.6" stroke="#000" stroke-width="1.6" fill="none" />
<line x1="1130.2" y1="244.5" x2="1130.2" y2="251.0" stroke="#000" stroke-width="1.1" />
<line x1="1126.3" y1="251.0" x2="1134.1" y2="251.0" stroke="#000" stroke-width="1.1" />
<line x1="1127.8" y1="253.0" x2="1132.6" y2="253.0" stroke="#000" stroke-width="1.0" />
<g transform="translate(163,81.25)"><path d="M-51.1,-23.75 L-57,-22.8 Q-61.3,-22 -61.3,-19.5 L-61.3,23.2 L-59.2,23.2 L-59.2,27.45 L-49.6,27.45" stroke="#000" stroke-width="1.9" fill="#fff"/>
<rect x="-51.1" y="-23.75" width="88.80" height="11.30" stroke="#000" stroke-width="1.9" fill="#fff"/>
<circle cx="-46.17" cy="-19.6" r="2.0" stroke="#000" stroke-width="1.2" fill="none"/>
<line x1="-41.23" y1="-23.75" x2="-41.23" y2="-12.45" stroke="#000" stroke-width="1.3"/>
<circle cx="-36.30" cy="-19.6" r="2.0" stroke="#000" stroke-width="1.2" fill="none"/>
<line x1="-31.37" y1="-23.75" x2="-31.37" y2="-12.45" stroke="#000" stroke-width="1.3"/>
<circle cx="-26.43" cy="-19.6" r="2.0" stroke="#000" stroke-width="1.2" fill="none"/>
<line x1="-21.50" y1="-23.75" x2="-21.50" y2="-12.45" stroke="#000" stroke-width="1.3"/>
<circle cx="-16.57" cy="-19.6" r="2.0" stroke="#000" stroke-width="1.2" fill="none"/>
<line x1="-11.63" y1="-23.75" x2="-11.63" y2="-12.45" stroke="#000" stroke-width="1.3"/>
<circle cx="-6.70" cy="-19.6" r="2.0" stroke="#000" stroke-width="1.2" fill="none"/>
<line x1="-1.77" y1="-23.75" x2="-1.77" y2="-12.45" stroke="#000" stroke-width="1.3"/>
<circle cx="3.17" cy="-19.6" r="2.0" stroke="#000" stroke-width="1.2" fill="none"/>
<line x1="8.10" y1="-23.75" x2="8.10" y2="-12.45" stroke="#000" stroke-width="1.3"/>
<circle cx="13.03" cy="-19.6" r="2.0" stroke="#000" stroke-width="1.2" fill="none"/>
<line x1="17.97" y1="-23.75" x2="17.97" y2="-12.45" stroke="#000" stroke-width="1.3"/>
<circle cx="22.90" cy="-19.6" r="2.0" stroke="#000" stroke-width="1.2" fill="none"/>
<line x1="27.83" y1="-23.75" x2="27.83" y2="-12.45" stroke="#000" stroke-width="1.3"/>
<circle cx="32.77" cy="-19.6" r="2.0" stroke="#000" stroke-width="1.2" fill="none"/>
<rect x="-47.4" y="-12.45" width="92.10" height="8.40" stroke="#000" stroke-width="1.9" fill="#fff"/>
<line x1="-37.17" y1="-12.45" x2="-37.17" y2="-4.05" stroke="#000" stroke-width="2.0"/>
<line x1="-26.93" y1="-12.45" x2="-26.93" y2="-4.05" stroke="#000" stroke-width="2.0"/>
<line x1="-16.70" y1="-12.45" x2="-16.70" y2="-4.05" stroke="#000" stroke-width="2.0"/>
<line x1="-6.47" y1="-12.45" x2="-6.47" y2="-4.05" stroke="#000" stroke-width="2.0"/>
<line x1="3.77" y1="-12.45" x2="3.77" y2="-4.05" stroke="#000" stroke-width="2.0"/>
<line x1="14.00" y1="-12.45" x2="14.00" y2="-4.05" stroke="#000" stroke-width="2.0"/>
<line x1="24.23" y1="-12.45" x2="24.23" y2="-4.05" stroke="#000" stroke-width="2.0"/>
<line x1="34.47" y1="-12.45" x2="34.47" y2="-4.05" stroke="#000" stroke-width="2.0"/>
<rect x="-47.4" y="-3.25" width="94.60" height="11.30" stroke="#000" stroke-width="1.9" fill="#fff"/>
<line x1="-47.4" y1="-1.6" x2="47.2" y2="-1.6" stroke="#000" stroke-width="1.6"/>
<line x1="-47.4" y1="6.7" x2="46.2" y2="6.7" stroke="#000" stroke-width="2.2"/>
<path d="M-46.80,6.6 L-44.20,-1.4" stroke="#000" stroke-width="1.9" fill="none"/>
<path d="M-36.57,6.6 L-33.97,-1.4" stroke="#000" stroke-width="1.9" fill="none"/>
<path d="M-26.34,6.6 L-23.74,-1.4" stroke="#000" stroke-width="1.9" fill="none"/>
<path d="M-16.11,6.6 L-13.51,-1.4" stroke="#000" stroke-width="1.9" fill="none"/>
<path d="M-5.88,6.6 L-3.28,-1.4" stroke="#000" stroke-width="1.9" fill="none"/>
<path d="M4.35,6.6 L6.95,-1.4" stroke="#000" stroke-width="1.9" fill="none"/>
<path d="M14.58,6.6 L17.18,-1.4" stroke="#000" stroke-width="1.9" fill="none"/>
<path d="M24.81,6.6 L27.41,-1.4" stroke="#000" stroke-width="1.9" fill="none"/>
<path d="M35.04,6.6 L37.64,-1.4" stroke="#000" stroke-width="1.9" fill="none"/>
<path d="M45.27,6.6 L47.20,-1.4" stroke="#000" stroke-width="1.6" fill="none"/>
<rect x="-47.4" y="8.05" width="92.10" height="6.20" stroke="#000" stroke-width="1.9" fill="#fff"/>
<line x1="-37.17" y1="8.05" x2="-37.17" y2="14.25" stroke="#000" stroke-width="1.6"/>
<line x1="-26.93" y1="8.05" x2="-26.93" y2="14.25" stroke="#000" stroke-width="1.6"/>
<line x1="-16.70" y1="8.05" x2="-16.70" y2="14.25" stroke="#000" stroke-width="1.6"/>
<line x1="-6.47" y1="8.05" x2="-6.47" y2="14.25" stroke="#000" stroke-width="1.6"/>
<line x1="3.77" y1="8.05" x2="3.77" y2="14.25" stroke="#000" stroke-width="1.6"/>
<line x1="14.00" y1="8.05" x2="14.00" y2="14.25" stroke="#000" stroke-width="1.6"/>
<line x1="24.23" y1="8.05" x2="24.23" y2="14.25" stroke="#000" stroke-width="1.6"/>
<line x1="34.47" y1="8.05" x2="34.47" y2="14.25" stroke="#000" stroke-width="1.6"/>
<rect x="-49.6" y="14.25" width="87.70" height="13.20" stroke="#000" stroke-width="1.9" fill="#fff"/>
<circle cx="-44.73" cy="24.3" r="2.0" stroke="#000" stroke-width="1.3" fill="none"/>
<line x1="-39.86" y1="14.25" x2="-39.86" y2="27.45" stroke="#000" stroke-width="1.3"/>
<circle cx="-34.98" cy="24.3" r="2.0" stroke="#000" stroke-width="1.3" fill="none"/>
<line x1="-30.11" y1="14.25" x2="-30.11" y2="27.45" stroke="#000" stroke-width="1.3"/>
<circle cx="-25.24" cy="24.3" r="2.0" stroke="#000" stroke-width="1.3" fill="none"/>
<line x1="-20.37" y1="14.25" x2="-20.37" y2="27.45" stroke="#000" stroke-width="1.3"/>
<circle cx="-15.49" cy="24.3" r="2.0" stroke="#000" stroke-width="1.3" fill="none"/>
<line x1="-10.62" y1="14.25" x2="-10.62" y2="27.45" stroke="#000" stroke-width="1.3"/>
<circle cx="-5.75" cy="24.3" r="2.0" stroke="#000" stroke-width="1.3" fill="none"/>
<line x1="-0.88" y1="14.25" x2="-0.88" y2="27.45" stroke="#000" stroke-width="1.3"/>
<circle cx="3.99" cy="24.3" r="2.0" stroke="#000" stroke-width="1.3" fill="none"/>
<line x1="8.87" y1="14.25" x2="8.87" y2="27.45" stroke="#000" stroke-width="1.3"/>
<circle cx="13.74" cy="24.3" r="2.0" stroke="#000" stroke-width="1.3" fill="none"/>
<line x1="18.61" y1="14.25" x2="18.61" y2="27.45" stroke="#000" stroke-width="1.3"/>
<circle cx="23.48" cy="24.3" r="2.0" stroke="#000" stroke-width="1.3" fill="none"/>
<line x1="28.36" y1="14.25" x2="28.36" y2="27.45" stroke="#000" stroke-width="1.3"/>
<circle cx="33.23" cy="24.3" r="2.0" stroke="#000" stroke-width="1.3" fill="none"/>
<path d="M-3.8,0 A3.75,3.0 0 0 1 3.7,0 L5.1,37.9 L9.3,29.05 Q12,27.6 14.5,28.55 Q16.8,30 17.3,32.85 Q19.5,31 21.1,31.85 Q24.8,33 25.75,35.65 Q29.8,37 31.4,41.25 Q33.3,45 32.8,49.65 Q32.5,56 31.4,60 Q29,65.5 25.75,70.35 Q23.4,74 24.3,81.05 L1.8,81.55 Q2.6,75.5 -0.2,69 Q-3.2,62 -3.9,54 Q-4.4,48 -3.8,41.25 Z" stroke="none" fill="#fff"/>
<path d="M1.8,81.55 Q2.6,75.5 -0.2,69 Q-3.2,62 -3.9,54 Q-4.4,48 -3.8,41.25 L-3.8,0 A3.75,3.0 0 0 1 3.7,0 L5.1,37.9" stroke="#000" stroke-width="1.4" fill="none"/>
<path d="M5.1,37.9 L9.3,29.05 Q12,27.6 14.5,28.55 Q16.8,30 17.3,32.85 Q17.6,36.5 16.4,40.35" stroke="#000" stroke-width="1.4" fill="none"/>
<path d="M17.3,32.85 Q19.5,31 21.1,31.85 Q24.8,33 25.75,35.65 Q25.9,39.5 25.3,43.15" stroke="#000" stroke-width="1.4" fill="none"/>
<path d="M25.75,35.65 Q29.8,37 31.4,41.25 Q33.3,45 32.8,49.65 Q32.5,56 31.4,60 Q29,65.5 25.75,70.35 Q23.4,74 24.3,81.05" stroke="#000" stroke-width="1.4" fill="none"/>
<path d="M4.9,30 L5.1,37.9 L9,30 Z" fill="#000" stroke="#000" stroke-width="0.6"/>
<path d="M-2.8,10.5 Q0,11.4 2.9,10.5" stroke="#000" stroke-width="0.9" fill="none"/>
<path d="M-1.8,23 L2.2,23 M-1.8,25 L2.2,25" stroke="#000" stroke-width="0.8" fill="none"/></g>
<g transform="translate(180.8,984.2) scale(1.19,1.2)"><path d="M-51.1,-23.75 L-57,-22.8 Q-61.3,-22 -61.3,-19.5 L-61.3,23.2 L-59.2,23.2 L-59.2,27.45 L-49.6,27.45" stroke="#000" stroke-width="1.67" fill="#fff"/>
<rect x="-51.1" y="-23.75" width="88.80" height="11.30" stroke="#000" stroke-width="1.67" fill="#fff"/>
<circle cx="-46.17" cy="-19.6" r="2.0" stroke="#000" stroke-width="1.06" fill="none"/>
<line x1="-41.23" y1="-23.75" x2="-41.23" y2="-12.45" stroke="#000" stroke-width="1.14"/>
<circle cx="-36.30" cy="-19.6" r="2.0" stroke="#000" stroke-width="1.06" fill="none"/>
<line x1="-31.37" y1="-23.75" x2="-31.37" y2="-12.45" stroke="#000" stroke-width="1.14"/>
<circle cx="-26.43" cy="-19.6" r="2.0" stroke="#000" stroke-width="1.06" fill="none"/>
<line x1="-21.50" y1="-23.75" x2="-21.50" y2="-12.45" stroke="#000" stroke-width="1.14"/>
<circle cx="-16.57" cy="-19.6" r="2.0" stroke="#000" stroke-width="1.06" fill="none"/>
<line x1="-11.63" y1="-23.75" x2="-11.63" y2="-12.45" stroke="#000" stroke-width="1.14"/>
<circle cx="-6.70" cy="-19.6" r="2.0" stroke="#000" stroke-width="1.06" fill="none"/>
<line x1="-1.77" y1="-23.75" x2="-1.77" y2="-12.45" stroke="#000" stroke-width="1.14"/>
<circle cx="3.17" cy="-19.6" r="2.0" stroke="#000" stroke-width="1.06" fill="none"/>
<line x1="8.10" y1="-23.75" x2="8.10" y2="-12.45" stroke="#000" stroke-width="1.14"/>
<circle cx="13.03" cy="-19.6" r="2.0" stroke="#000" stroke-width="1.06" fill="none"/>
<line x1="17.97" y1="-23.75" x2="17.97" y2="-12.45" stroke="#000" stroke-width="1.14"/>
<circle cx="22.90" cy="-19.6" r="2.0" stroke="#000" stroke-width="1.06" fill="none"/>
<line x1="27.83" y1="-23.75" x2="27.83" y2="-12.45" stroke="#000" stroke-width="1.14"/>
<circle cx="32.77" cy="-19.6" r="2.0" stroke="#000" stroke-width="1.06" fill="none"/>
<rect x="-47.4" y="-12.45" width="92.10" height="8.40" stroke="#000" stroke-width="1.67" fill="#fff"/>
<line x1="-37.17" y1="-12.45" x2="-37.17" y2="-4.05" stroke="#000" stroke-width="1.76"/>
<line x1="-26.93" y1="-12.45" x2="-26.93" y2="-4.05" stroke="#000" stroke-width="1.76"/>
<line x1="-16.70" y1="-12.45" x2="-16.70" y2="-4.05" stroke="#000" stroke-width="1.76"/>
<line x1="-6.47" y1="-12.45" x2="-6.47" y2="-4.05" stroke="#000" stroke-width="1.76"/>
<line x1="3.77" y1="-12.45" x2="3.77" y2="-4.05" stroke="#000" stroke-width="1.76"/>
<line x1="14.00" y1="-12.45" x2="14.00" y2="-4.05" stroke="#000" stroke-width="1.76"/>
<line x1="24.23" y1="-12.45" x2="24.23" y2="-4.05" stroke="#000" stroke-width="1.76"/>
<line x1="34.47" y1="-12.45" x2="34.47" y2="-4.05" stroke="#000" stroke-width="1.76"/>
<rect x="-47.4" y="-3.25" width="94.60" height="11.30" stroke="#000" stroke-width="1.67" fill="#fff"/>
<line x1="-47.4" y1="-1.6" x2="47.2" y2="-1.6" stroke="#000" stroke-width="1.41"/>
<line x1="-47.4" y1="6.7" x2="46.2" y2="6.7" stroke="#000" stroke-width="1.94"/>
<path d="M-46.80,6.6 L-44.20,-1.4" stroke="#000" stroke-width="1.67" fill="none"/>
<path d="M-36.57,6.6 L-33.97,-1.4" stroke="#000" stroke-width="1.67" fill="none"/>
<path d="M-26.34,6.6 L-23.74,-1.4" stroke="#000" stroke-width="1.67" fill="none"/>
<path d="M-16.11,6.6 L-13.51,-1.4" stroke="#000" stroke-width="1.67" fill="none"/>
<path d="M-5.88,6.6 L-3.28,-1.4" stroke="#000" stroke-width="1.67" fill="none"/>
<path d="M4.35,6.6 L6.95,-1.4" stroke="#000" stroke-width="1.67" fill="none"/>
<path d="M14.58,6.6 L17.18,-1.4" stroke="#000" stroke-width="1.67" fill="none"/>
<path d="M24.81,6.6 L27.41,-1.4" stroke="#000" stroke-width="1.67" fill="none"/>
<path d="M35.04,6.6 L37.64,-1.4" stroke="#000" stroke-width="1.67" fill="none"/>
<path d="M45.27,6.6 L47.20,-1.4" stroke="#000" stroke-width="1.41" fill="none"/>
<rect x="-47.4" y="8.05" width="92.10" height="6.20" stroke="#000" stroke-width="1.67" fill="#fff"/>
<line x1="-37.17" y1="8.05" x2="-37.17" y2="14.25" stroke="#000" stroke-width="1.41"/>
<line x1="-26.93" y1="8.05" x2="-26.93" y2="14.25" stroke="#000" stroke-width="1.41"/>
<line x1="-16.70" y1="8.05" x2="-16.70" y2="14.25" stroke="#000" stroke-width="1.41"/>
<line x1="-6.47" y1="8.05" x2="-6.47" y2="14.25" stroke="#000" stroke-width="1.41"/>
<line x1="3.77" y1="8.05" x2="3.77" y2="14.25" stroke="#000" stroke-width="1.41"/>
<line x1="14.00" y1="8.05" x2="14.00" y2="14.25" stroke="#000" stroke-width="1.41"/>
<line x1="24.23" y1="8.05" x2="24.23" y2="14.25" stroke="#000" stroke-width="1.41"/>
<line x1="34.47" y1="8.05" x2="34.47" y2="14.25" stroke="#000" stroke-width="1.41"/>
<rect x="-49.6" y="14.25" width="87.70" height="13.20" stroke="#000" stroke-width="1.67" fill="#fff"/>
<circle cx="-44.73" cy="24.3" r="2.0" stroke="#000" stroke-width="1.14" fill="none"/>
<line x1="-39.86" y1="14.25" x2="-39.86" y2="27.45" stroke="#000" stroke-width="1.14"/>
<circle cx="-34.98" cy="24.3" r="2.0" stroke="#000" stroke-width="1.14" fill="none"/>
<line x1="-30.11" y1="14.25" x2="-30.11" y2="27.45" stroke="#000" stroke-width="1.14"/>
<circle cx="-25.24" cy="24.3" r="2.0" stroke="#000" stroke-width="1.14" fill="none"/>
<line x1="-20.37" y1="14.25" x2="-20.37" y2="27.45" stroke="#000" stroke-width="1.14"/>
<circle cx="-15.49" cy="24.3" r="2.0" stroke="#000" stroke-width="1.14" fill="none"/>
<line x1="-10.62" y1="14.25" x2="-10.62" y2="27.45" stroke="#000" stroke-width="1.14"/>
<circle cx="-5.75" cy="24.3" r="2.0" stroke="#000" stroke-width="1.14" fill="none"/>
<line x1="-0.88" y1="14.25" x2="-0.88" y2="27.45" stroke="#000" stroke-width="1.14"/>
<circle cx="3.99" cy="24.3" r="2.0" stroke="#000" stroke-width="1.14" fill="none"/>
<line x1="8.87" y1="14.25" x2="8.87" y2="27.45" stroke="#000" stroke-width="1.14"/>
<circle cx="13.74" cy="24.3" r="2.0" stroke="#000" stroke-width="1.14" fill="none"/>
<line x1="18.61" y1="14.25" x2="18.61" y2="27.45" stroke="#000" stroke-width="1.14"/>
<circle cx="23.48" cy="24.3" r="2.0" stroke="#000" stroke-width="1.14" fill="none"/>
<line x1="28.36" y1="14.25" x2="28.36" y2="27.45" stroke="#000" stroke-width="1.14"/>
<circle cx="33.23" cy="24.3" r="2.0" stroke="#000" stroke-width="1.14" fill="none"/>
<path d="M-3.8,0 A3.75,3.0 0 0 1 3.7,0 L5.1,37.9 L9.3,29.05 Q12,27.6 14.5,28.55 Q16.8,30 17.3,32.85 Q19.5,31 21.1,31.85 Q24.8,33 25.75,35.65 Q29.8,37 31.4,41.25 Q33.3,45 32.8,49.65 Q32.5,56 31.4,60 Q29,65.5 25.75,70.35 Q23.4,74 24.3,81.05 L1.8,81.55 Q2.6,75.5 -0.2,69 Q-3.2,62 -3.9,54 Q-4.4,48 -3.8,41.25 Z" stroke="none" fill="#fff"/>
<path d="M1.8,81.55 Q2.6,75.5 -0.2,69 Q-3.2,62 -3.9,54 Q-4.4,48 -3.8,41.25 L-3.8,0 A3.75,3.0 0 0 1 3.7,0 L5.1,37.9" stroke="#000" stroke-width="1.23" fill="none"/>
<path d="M5.1,37.9 L9.3,29.05 Q12,27.6 14.5,28.55 Q16.8,30 17.3,32.85 Q17.6,36.5 16.4,40.35" stroke="#000" stroke-width="1.23" fill="none"/>
<path d="M17.3,32.85 Q19.5,31 21.1,31.85 Q24.8,33 25.75,35.65 Q25.9,39.5 25.3,43.15" stroke="#000" stroke-width="1.23" fill="none"/>
<path d="M25.75,35.65 Q29.8,37 31.4,41.25 Q33.3,45 32.8,49.65 Q32.5,56 31.4,60 Q29,65.5 25.75,70.35 Q23.4,74 24.3,81.05" stroke="#000" stroke-width="1.23" fill="none"/>
<path d="M4.9,30 L5.1,37.9 L9,30 Z" fill="#000" stroke="#000" stroke-width="0.53"/>
<path d="M-2.8,10.5 Q0,11.4 2.9,10.5" stroke="#000" stroke-width="0.79" fill="none"/>
<path d="M-1.8,23 L2.2,23 M-1.8,25 L2.2,25" stroke="#000" stroke-width="0.70" fill="none"/></g>
<path d="M244.6,53.2 Q246.4,50.4 248.9,52.5 Q253.8,66 252.8,80 Q251.8,92.5 245.5,100.8 L249.4,103.6 L228.2,113 L237.6,92.2 L240.6,96.6 Q247.5,88 248.6,77 Q249.3,64 244.6,53.2 Z" stroke="#000" stroke-width="1.4" fill="#fff" />
<path d="M278.6,1022.8 Q281.3,1026.2 284.8,1023.2 Q289.6,1005 288.2,990 Q286.8,978 280.8,969.5 L284.6,963.6 L258.9,953.3 L271.3,977.9 L274.2,973.8 Q280.8,981 282.3,992 Q283.2,1006 278.6,1022.8 Z" stroke="#000" stroke-width="1.4" fill="#fff" />
<path d="M 129.8,187.1 L 147.0,190.9 L 146.7,194.0 L 129.0,190.9 Z" stroke="#000" stroke-width="1.25" fill="#111" />
<path d="M 147.0,190.9 Q 146.7,188.0 154.5,186.7 L 168.3,187.5 L 170.6,209.9 L 163.7,209.3 Q 154.5,206.4 148.2,198.4 Z" stroke="#000" stroke-width="2.0" fill="#fff" />
<path d="M 154.5,186.7 Q 148.7,192.6 153.3,204.7" stroke="#000" stroke-width="1.75" fill="none" />
<path d="M 163.7,188.0 Q 159.1,197.2 164.3,209.3" stroke="#000" stroke-width="2.0" fill="none" />
<path d="M 168.3,187.5 L 182.1,188.3 L 219.4,198.4 L 220.0,201.8 L 221.7,215.6 L 205.1,218.5 L 171.7,211.6 L 170.6,209.9 Z" stroke="#000" stroke-width="2.25" fill="#fff" />
<path d="M 170.0,193.2 L 207.4,203.6 L 219.4,201.3" stroke="#000" stroke-width="2.0" fill="none" />
<path d="M 179.8,189.2 L 215.4,199.5" stroke="#000" stroke-width="1.75" fill="none" />
<path d="M 171.1,201.3 L 205.6,208.7" stroke="#000" stroke-width="2.0" fill="none" />
<path d="M 205.6,203.0 L 207.4,217.9" stroke="#000" stroke-width="2.0" fill="none" />
<path d="M 208.5,210.5 L 220.0,209.3" stroke="#000" stroke-width="2.0" fill="none" />
<path d="M 209.1,214.5 L 221.1,213.3" stroke="#000" stroke-width="1.75" fill="none" />
<path d="M 196.4,217.9 L 197.0,234.0 L 199.3,234.0 L 209.7,262.8 L 205.1,264.5 L 194.7,266.8 L 215.4,270.8 L 233.8,268.5 L 229.2,267.4 L 221.7,215.6 L 205.1,218.5 Z" stroke="#000" stroke-width="2.25" fill="#fff" />
<path d="M 199.3,228.3 L 215.4,231.7 L 220.0,267.4" stroke="#000" stroke-width="1.875" fill="none" />
<path d="M 212.0,234.0 L 216.6,267.4" stroke="#000" stroke-width="1.75" fill="none" />
<path d="M 207.4,217.9 L 215.4,231.7" stroke="#000" stroke-width="1.75" fill="none" />
<path d="M 200.5,226.0 L 209.7,226.0 L 208.5,217.9" stroke="#000" stroke-width="1.75" fill="none" />
<path d="M 194.7,266.8 L 194.1,294.9 L 216.6,300.7 L 233.8,294.9 L 233.8,268.5 L 215.4,270.8 Z" stroke="#000" stroke-width="2.375" fill="#fff" />
<path d="M 216.6,271.4 L 217.1,300.7" stroke="#000" stroke-width="3.25" fill="none" />
<path d="M 195.9,268.5 L 216.6,272.0 L 233.2,269.1" stroke="#000" stroke-width="1.625" fill="none" />
<path d="M84,232.2 Q84.5,227.5 87.2,226.5 L124,223.2 L125.7,221.8 L126.9,225.9 L144.1,225.9 L144.1,224.2 L146.7,224.2 L146.7,240.3 L144.1,240.3 L144.1,239.1 L126.9,239.1 L125.7,242.5 L124,240.9 L87.2,238 Q84.5,237 84,232.2 Z" stroke="#000" stroke-width="1.2" fill="#111" />
<path d="M89.5,229.3 L91.7,229.0 M89.0,235.2 L91.3,235.6" stroke="#fff" stroke-width="1.3" fill="none" />
<path d="M95.5,229.3 L97.7,229.0 M95.0,235.2 L97.3,235.6" stroke="#fff" stroke-width="1.3" fill="none" />
<path d="M101.5,229.3 L103.7,229.0 M101.0,235.2 L103.3,235.6" stroke="#fff" stroke-width="1.3" fill="none" />
<path d="M107.5,229.3 L109.7,229.0 M107.0,235.2 L109.3,235.6" stroke="#fff" stroke-width="1.3" fill="none" />
<path d="M113.5,229.3 L115.7,229.0 M113.0,235.2 L115.3,235.6" stroke="#fff" stroke-width="1.3" fill="none" />
<path d="M119.5,229.3 L121.7,229.0 M119.0,235.2 L121.3,235.6" stroke="#fff" stroke-width="1.3" fill="none" />
<rect x="140.6" y="229.7" width="2.9" height="5.4" stroke="#000" stroke-width="0" fill="#fff" />
<path d="M131,230 L131,235 M134,230 L134,235 M137,230 L137,235" stroke="#666" stroke-width="0.7" fill="none" />
<text x="117.2" y="256.4" font-size="10.8" font-weight="bold" stroke="#000" stroke-width="0.4">x2</text>
<path d="M82.3,263.3 L88.3,260.4 L154.4,267.6 L153.9,275.1 L85.5,267 Z" stroke="#000" stroke-width="1.2" fill="#111" />
<rect x="151.4" y="269.2" width="2.4" height="5.0" stroke="#000" stroke-width="0" fill="#fff" />
</svg></body></html>
